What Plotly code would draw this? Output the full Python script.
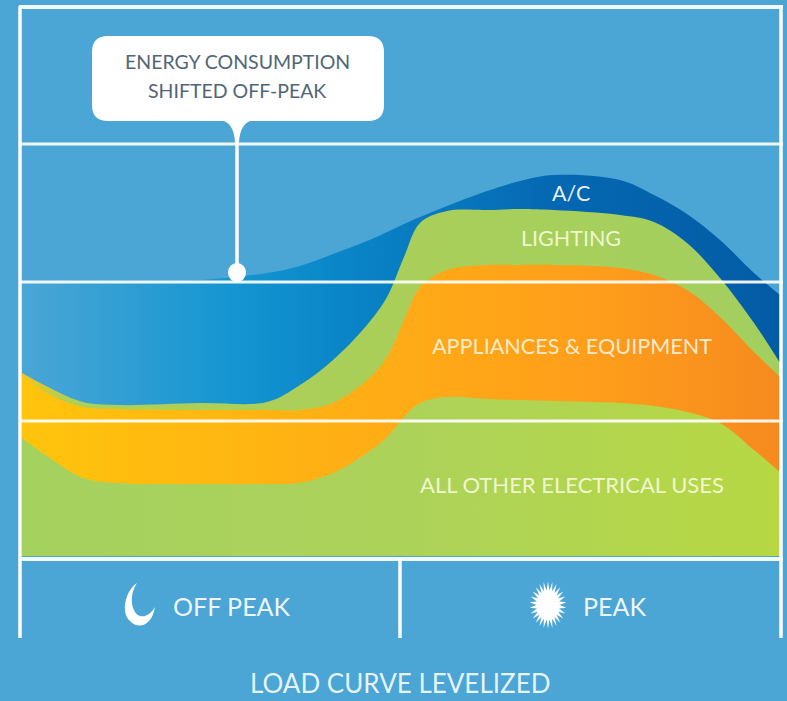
import math
import plotly.graph_objects as go

# Position along the day (chart units) and stacked load levels
day_x = [22, 50, 83, 117, 200, 267, 300, 333, 367, 387, 404, 420, 447, 487, 520, 554, 620, 654, 687, 720, 754, 780]
ac_top = [276, 276, 276, 276, 276, 283, 290, 302, 315, 324, 332, 339, 350, 365, 375, 381, 376, 361, 342, 316, 283, 261]
lighting_top = [183, 168, 154, 151, 153, 154, 171, 196, 231, 259, 299, 333, 345, 346, 347, 346, 341, 334, 313, 278, 233, 193]
appliances_top = [179, 161, 149, 147, 146, 146, 146, 153, 176, 199, 236, 269, 286, 291, 291, 291, 288, 281, 266, 239, 204, 179]
other_top = [118, 98, 78, 73, 72, 72, 73, 83, 103, 119, 139, 153, 159, 157, 156, 155, 153, 150, 144, 133, 106, 84]

callout_lines = ["ENERGY CONSUMPTION", "SHIFTED OFF-PEAK"]
layer_labels = ["A/C", "LIGHTING", "APPLIANCES &amp; EQUIPMENT", "ALL OTHER ELECTRICAL USES"]
period_labels = ["OFF PEAK", "PEAK"]
chart_title = "LOAD CURVE LEVELIZED"

BG = "#4BA6D6"
W, H = 787, 701
BASE = 556


def Y(py):
    return BASE - py


def area(vals, name, stops):
    return go.Scatter(
        x=day_x, y=vals, name=name, mode="lines", showlegend=False, hoverinfo="skip",
        line=dict(width=0, shape="spline", smoothing=1.0),
        fill="tozeroy",
        fillgradient=dict(type="horizontal", colorscale=stops),
    )


fig = go.Figure()
fig.add_trace(area(ac_top, "A/C", [[0, BG], [0.27, "#1596D2"], [0.42, "#0A86C8"], [0.7, "#0568B2"], [1, "#045BA5"]]))
fig.add_trace(area(lighting_top, "Lighting", [[0, "#F5C518"], [0.06, "#AFCF55"], [1, "#A3CF5F"]]))
fig.add_trace(area(appliances_top, "Appliances", [[0, "#FFC40C"], [0.4, "#FFB014"], [0.75, "#FF9E1B"], [1, "#F68A1F"]]))
fig.add_trace(area(other_top, "Other", [[0, "#A5D15F"], [0.5, "#ADD25A"], [1, "#B7D843"]]))

shapes = []


def hline(py, x0, x1, width=4, color="rgba(255,255,255,0.92)"):
    shapes.append(dict(type="line", x0=x0, x1=x1, y0=Y(py), y1=Y(py), line=dict(color=color, width=width), layer="above"))


def vline(px, p0, p1, width=3.5):
    shapes.append(dict(type="line", x0=px, x1=px, y0=Y(p0), y1=Y(p1), line=dict(color="white", width=width), layer="above"))


def path(cmds):
    """cmds: list of (letter, [px, py, px, py ...]) in screen units."""
    out = []
    for c, pts in cmds:
        s = c
        s += " ".join(f"{pts[i]},{Y(pts[i + 1])}" for i in range(0, len(pts), 2))
        out.append(s)
    return " ".join(out) + " Z"


for py in (7, 144, 282, 421):
    hline(py, 19, 783, 4 if py == 7 else 3)
hline(559, 19, 783, 4, "rgba(245,252,245,0.98)")
vline(20, 6, 638)
vline(400, 559, 638)
vline(781, 6, 638)

# Callout bubble with tail
x0, x1, y0, y1, r = 92, 384, 36, 121, 16
shapes.append(dict(type="path", fillcolor="white", line=dict(width=0), layer="above", path=path([
    ("M", [x0 + r, y0]), ("L", [x1 - r, y0]), ("Q", [x1, y0, x1, y0 + r]), ("L", [x1, y1 - r]),
    ("Q", [x1, y1, x1 - r, y1]), ("L", [250, y1]), ("Q", [240, y1 + 4, 239, 142]), ("L", [235, 142]),
    ("Q", [234, y1 + 4, 224, y1]), ("L", [x0 + r, y1]), ("Q", [x0, y1, x0, y1 - r]), ("L", [x0, y0 + r]),
    ("Q", [x0, y0, x0 + r, y0]),
])))
vline(237, 140, 272, 3.5)
shapes.append(dict(type="circle", x0=228, x1=246, y0=Y(263), y1=Y(282), fillcolor="white", line=dict(width=0), layer="above"))

# Moon
shapes.append(dict(type="path", fillcolor="white", line=dict(width=0), layer="above", path=path([
    ("M", [137, 583]),
    ("C", [126, 590, 120, 612, 130, 621]),
    ("C", [138, 630, 152, 626, 155, 607]),
    ("C", [150, 616, 140, 620, 135, 612]),
    ("C", [130, 604, 131, 592, 137, 583]),
])))

# Sun burst
cx, cy, n = 548, 605, 26
sun_cmds = []
for i in range(2 * n):
    rad = 18.5 if i % 2 == 0 else 11.5
    a = math.pi * i / n
    sun_cmds.append(("M" if i == 0 else "L", [round(cx + rad * math.sin(a), 2), round(cy + rad * 1.28 * math.cos(a), 2)]))
shapes.append(dict(type="path", fillcolor="white", line=dict(width=0), layer="above", path=path(sun_cmds)))

FONT = "Lato"


def label(text, px, py, size, color="rgba(255,255,255,0.93)", xanchor="center"):
    fig.add_annotation(x=px, y=Y(py), text=text, showarrow=False, xanchor=xanchor, yanchor="middle",
                       font=dict(family=FONT, size=size, color=color))


label(callout_lines[0], 237, 61, 19.5, "#4F6678")
label(callout_lines[1], 237, 90, 19.5, "#4F6678")
label(layer_labels[0], 571, 193, 21.5)
label(layer_labels[1], 571, 238, 21.5, "rgba(245,250,215,0.95)")
label(layer_labels[2], 572, 346, 21.6, "rgba(255,240,215,0.95)")
label(layer_labels[3], 572, 484, 22, "rgba(245,250,215,0.95)")
label(period_labels[0], 231, 606, 25)
label(period_labels[1], 614, 606, 25)
label(chart_title, 400, 683, 26, "rgba(235,247,252,0.97)")

fig.update_layout(
    width=W, height=H, margin=dict(l=0, r=0, t=0, b=0),
    paper_bgcolor=BG, plot_bgcolor=BG, showlegend=False, shapes=shapes,
    xaxis=dict(range=[0, W], visible=False, fixedrange=True),
    yaxis=dict(range=[BASE - H, BASE], visible=False, fixedrange=True),
)
fig.write_html("out.html", config={"displayModeBar": False},
               post_script="document.body.style.margin='0';document.body.style.overflow='hidden';")
